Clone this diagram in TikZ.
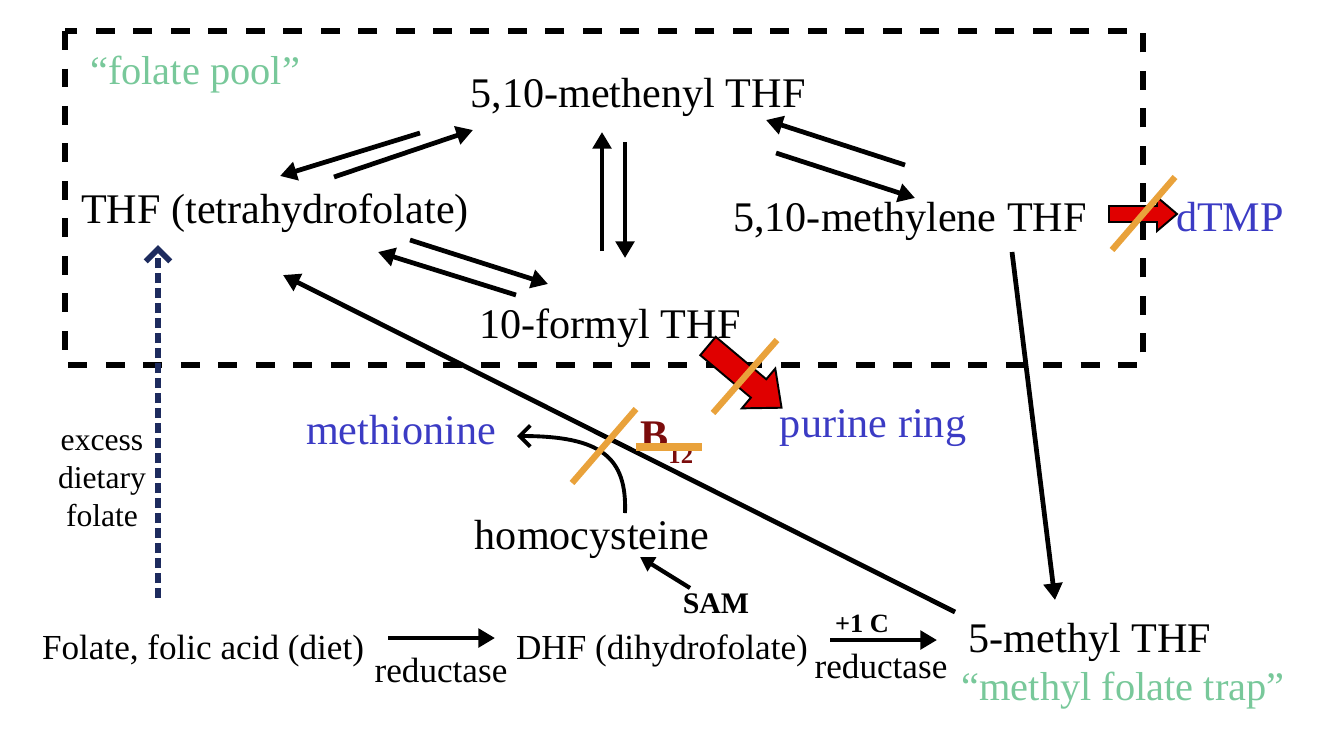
\documentclass[tikz,border=0pt]{standalone}
\usepackage{fontspec}
\setmainfont{Liberation Serif}
\usetikzlibrary{arrows.meta,calc}
\definecolor{poolgreen}{HTML}{78C89A}
\definecolor{prodblue}{HTML}{3B3BC4}
\definecolor{slashorange}{HTML}{E9A23B}
\definecolor{dietnavy}{HTML}{1D2B5E}
\definecolor{bred}{HTML}{7B0C0C}
\definecolor{arrowred}{HTML}{E00000}
\begin{document}
\begin{tikzpicture}[x=0.02cm, y=-0.02cm,
    lbl/.style={font=\fontsize{24}{29}\selectfont, inner sep=0pt, anchor=base},
    sml/.style={font=\fontsize{20}{24}\selectfont, inner sep=0pt, anchor=base},
    flow/.style={line width=2.7pt, -{Triangle[length=9.5pt,width=10.5pt]}},
    slash/.style={slashorange, line width=3.6pt},
    redarrow/.style={draw=black, line width=1.1pt, fill=arrowred, line join=miter},
    pics/fatarrow/.style n args={4}{code={
        \draw[redarrow] (0,-#4) -- (#1-#2,-#4) -- (#1-#2,-#3) -- (#1,0)
            -- (#1-#2,#3) -- (#1-#2,#4) -- (0,#4) -- cycle;}}]
    \useasboundingbox (0,0) rectangle (1334,735);

    % folate pool box
    \draw[line width=3pt, dash pattern=on 0.38cm off 0.37cm] (65,31) rectangle (1143,365);
    \node[lbl, poolgreen, font=\fontsize{23}{28}\selectfont] (pool) at (195,84) {“folate pool”};

    % pool members
    \node[lbl] (men) at (638,107) {5,10-methenyl THF};
    \node[lbl] (thf) at (275,223) {THF (tetrahydrofolate)};
    \node[lbl] (mene) at (910,231) {5,10-methylene THF};
    \node[lbl] (formyl) at (610,338) {10-formyl THF};

    % products
    \node[lbl, prodblue] (dtmp) at (1230,231) {dTMP};
    \node[lbl, prodblue] (purine) at (873,437) {purine ring};
    \node[lbl, prodblue] (methionine) at (401,444) {methionine};
    \node[lbl] (hcy) at (592,549) {homocysteine};
    \node[inner sep=0pt, anchor=base west, bred, font=\bfseries\fontsize{24}{28}\selectfont]
        (b12) at (640,449) {B\raisebox{-8pt}{\fontsize{14}{17}\selectfont 12}};

    % bottom row
    \node[sml] (diet) at (203,659) {Folate, folic acid (diet)};
    \node[sml] (dhf) at (662,659) {DHF (dihydrofolate)};
    \node[sml] (red1) at (441,682) {reductase};
    \node[sml] (red2) at (881,678) {reductase};
    \node[lbl] (mthf) at (1090,652) {5-methyl THF};
    \node[lbl, poolgreen, font=\fontsize{23}{28}\selectfont] (trap) at (1123,700) {“methyl folate trap”};
    \node[sml, font=\bfseries\fontsize{17}{20}\selectfont] (sam) at (716,613) {SAM};
    \node[sml, font=\bfseries\fontsize{15}{18}\selectfont] (onec) at (862,632) {+1 C};
    \node[inner sep=0pt, anchor=north, align=center, font=\fontsize{18}{21.6}\selectfont]
        (excess) at (102,435) {excess\\dietary\\folate};

    % THF <-> 5,10-methenyl
    \draw[flow] ([shift={(-218,26)}]men.base) -- ([shift={(5,-47)}]thf.base);
    \draw[flow] ([shift={(59,-46)}]thf.base) -- ([shift={(-165,23)}]men.base);

    % THF <-> 10-formyl
    \draw[flow] ([shift={(135,17)}]thf.base) -- ([shift={(-62,-54)}]formyl.base);
    \draw[flow] ([shift={(-94,-43)}]formyl.base) -- ([shift={(103,29)}]thf.base);

    % 5,10-methenyl <-> 10-formyl
    \draw[flow] ([shift={(-8,-87)}]formyl.base) -- ([shift={(-36,25)}]men.base);
    \draw[flow] ([shift={(-13,35)}]men.base) -- ([shift={(15,-80)}]formyl.base);

    % 5,10-methenyl <-> 5,10-methylene
    \draw[flow] ([shift={(-5,-66)}]mene.base) -- ([shift={(128,13)}]men.base);
    \draw[flow] ([shift={(138,46)}]men.base) -- ([shift={(5,-33)}]mene.base);

    % into and out of the trap
    \draw[flow] ([shift={(102,21)}]mene.base) -- ([shift={(-35,-52)}]mthf.base);
    \draw[flow] ([shift={(-135,-40)}]mthf.base) -- ([shift={(8,52)}]thf.base);

    % homocysteine -> methionine
    \draw[line width=2.2pt, -{Straight Barb[length=6pt,width=12pt]}]
        ([shift={(33,-36)}]hcy.base) .. controls ([shift={(35,-92)}]hcy.base)
        and ([shift={(200,-8)}]methionine.base) .. ([shift={(116,-8)}]methionine.base);
    \draw[line width=2.4pt, -{Triangle[length=8pt,width=9pt]}]
        ([shift={(-26,-25)}]sam.base) -- ([shift={(48,8)}]hcy.base);

    % reductase steps
    \draw[flow] ([shift={(185,-21)}]diet.base) -- ([shift={(-167,-21)}]dhf.base);
    \draw[flow] ([shift={(168,-19)}]dhf.base) -- ([shift={(-153,-12)}]mthf.base);

    % excess dietary folate
    \draw[dietnavy, line width=3.3pt, dash pattern=on 0.2cm off 0.1cm,
        -{Straight Barb[length=7pt,width=14pt]}]
        ([shift={(-45,-61)}]diet.base) -- ([shift={(-117,22)}]thf.base);

    % blocked outputs
    \pic at ([shift={(-121,-17)}]dtmp.base) {fatarrow={68}{20}{17}{8}};
    \pic[rotate=-40] at ([shift={(-165,-91)}]purine.base) {fatarrow={96}{30}{26}{12}};
    \draw[slash] (1112,250) -- (1175,177);
    \draw[slash] (713,413) -- (777,340);
    \draw[slash] (572,483) -- (636,409);
    \draw[slashorange, line width=4.5pt] (636,447) -- (702,447);
\end{tikzpicture}
\end{document}
